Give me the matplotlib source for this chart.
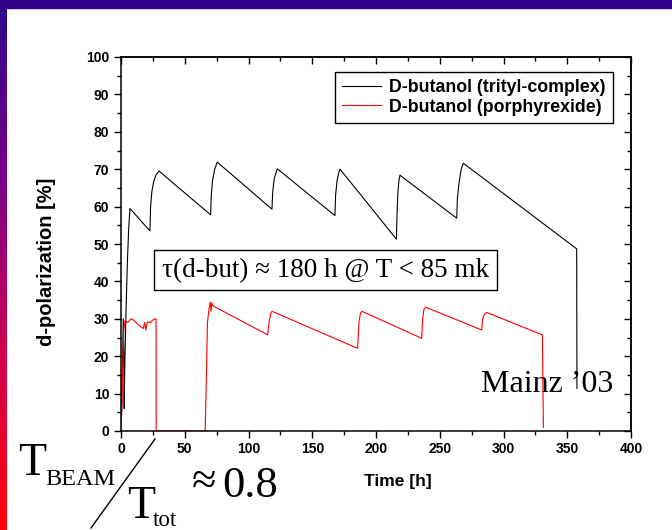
#!/usr/bin/env python3
# -*- coding: utf-8 -*-

import numpy as np
import matplotlib
matplotlib.use("Agg")
import matplotlib.pyplot as plt
from matplotlib.colors import LinearSegmentedColormap
from matplotlib.lines import Line2D
from matplotlib.patches import Rectangle
from matplotlib.ticker import MultipleLocator

# D-butanol (trityl-complex)
trityl_t = [0.4, 1.2, 1.8, 2.2, 2.5, 3.0, 4.0, 5.0, 6.0, 7.0,
            22.7, 23.2, 24.2, 25.5, 27.5, 29.8,
            70.3, 70.8, 71.8, 73.5, 75.5,
            118.4, 119.0, 120.2, 121.5, 122.6,
            167.8, 168.3, 169.5, 170.7, 171.8,
            216.0, 216.5, 217.2, 218.0, 218.8,
            263.3, 263.8, 265.0, 266.8, 268.5,
            357.4, 357.6]
trityl_pol = [4, 18, 30, 20, 6, 18, 33, 45, 54, 59.5,
              53.5, 60, 64, 66.5, 68.5, 69.5,
              57.8, 63, 67, 70, 71.9,
              59.3, 64, 67.5, 69, 70.1,
              57.6, 63, 67, 69, 70.0,
              51.3, 58, 64, 67, 68.4,
              56.9, 62, 66, 70, 71.6,
              48.7, 11.4]

# D-butanol (porphyrexide)
porph_t = [0, 0.8, 1.5, 2.2, 3.2, 5, 8, 10, 14, 17.5, 18.5, 19.5, 20.5,
           21.5, 23, 24.5, 27.5, 27.6,
           66.0, 67.0, 67.8, 69.0, 70.0, 70.6, 71.2, 72.0,
           115.0, 116.3, 117.5, 118.5,
           185.6, 186.6, 187.8, 189.0,
           235.8, 236.6, 237.6, 239.0,
           282.9, 283.6, 285.0, 286.8,
           330.5, 331.0, 331.3]
porph_pol = [0, 8, 20, 27, 29.5, 29, 30, 29.6, 28.3, 27.4, 29, 27, 29,
             29.2, 28.9, 29.6, 30, 0,
             0, 15, 29, 32.5, 34.5, 32, 34.3, 33.5,
             25.7, 29.5, 31.5, 32.0,
             22.1, 29, 31.5, 32.0,
             24.8, 30, 32.5, 33.1,
             27.0, 30, 31.2, 31.7,
             25.7, 10, 1.0]

series_names = ["D-butanol (trityl-complex)", "D-butanol (porphyrexide)"]

W, H = 672, 530
fig = plt.figure(figsize=(W / 100, H / 100), dpi=100)
fig.patch.set_facecolor("white")

# slide decoration: gradient strip on the left, dark band on top
cmap = LinearSegmentedColormap.from_list("slide", ["#2c0a8c", "#7a0088", "#d00050", "#ff0008"])
strip = fig.add_axes([0, 0, 7 / W, 1])
strip.imshow(np.linspace(0, 1, 256).reshape(-1, 1), aspect="auto", cmap=cmap)
strip.set_axis_off()
fig.add_artist(Rectangle((0, 1 - 8 / H), 1, 8 / H, transform=fig.transFigure,
                         color="#33008a", zorder=5))

ax = fig.add_axes([121 / W, 1 - 431 / H, 510 / W, 374 / H])
ax.plot(trityl_t, trityl_pol, color="black", lw=0.8, label=series_names[0])
ax.plot(porph_t, porph_pol, color="red", lw=0.8, label=series_names[1])

ax.set_xlim(0, 400)
ax.set_ylim(0, 100)
ax.xaxis.set_major_locator(MultipleLocator(50))
ax.xaxis.set_minor_locator(MultipleLocator(25))
ax.yaxis.set_major_locator(MultipleLocator(10))
ax.yaxis.set_minor_locator(MultipleLocator(5))

sans = ["Liberation Sans", "DejaVu Sans"]
serif = ["Liberation Serif", "DejaVu Serif"]

ax.tick_params(which="both", direction="out", width=1, top=False, right=False)
ax.tick_params(which="major", length=5)
ax.tick_params(which="minor", length=3)
for lab in ax.get_xticklabels() + ax.get_yticklabels():
    lab.set_fontfamily(sans)
    lab.set_fontweight("bold")
    lab.set_fontsize(10)
ax.tick_params(axis="x", pad=3)

# inward ticks on top and right
sec_x = ax.secondary_xaxis("top")
sec_x.xaxis.set_major_locator(MultipleLocator(50))
sec_x.xaxis.set_minor_locator(MultipleLocator(25))
sec_x.tick_params(which="both", direction="in", labeltop=False, width=1)
sec_x.tick_params(which="major", length=5)
sec_x.tick_params(which="minor", length=3)
sec_y = ax.secondary_yaxis("right")
sec_y.yaxis.set_major_locator(MultipleLocator(10))
sec_y.yaxis.set_minor_locator(MultipleLocator(5))
sec_y.tick_params(which="both", direction="in", labelright=False, width=1)
sec_y.tick_params(which="major", length=5)
sec_y.tick_params(which="minor", length=3)
for s in list(ax.spines.values()) + [sec_x.spines["top"], sec_y.spines["right"]]:
    s.set_linewidth(1.1)

ax.set_xlabel("Time [h]", family=sans, fontweight="bold", fontsize=12.5, labelpad=8)
ax.xaxis.set_label_coords(0.543, -0.115)
ax.set_ylabel("d-polarization [%]", family=sans, fontweight="bold", fontsize=14.5)
ax.yaxis.set_label_coords(-0.128, 0.452)

leg = ax.legend(loc="upper right", bbox_to_anchor=(0.965, 0.96),
                prop={"family": sans, "weight": "bold", "size": 12.8},
                fancybox=False, edgecolor="black", framealpha=1,
                handlelength=2.2, borderpad=0.42, labelspacing=0.12,
                handletextpad=0.45, borderaxespad=0)
leg.get_frame().set_linewidth(1.0)

ax.text(0.401, 0.430, "\u03c4(d-but) \u2248 180 h @ T < 85 mk", transform=ax.transAxes,
        ha="center", va="center", family=serif, fontsize=19.5,
        bbox=dict(boxstyle="square,pad=0.28", fc="white", ec="black", lw=1.0))
ax.text(0.965, 0.103, "Mainz \u201903", transform=ax.transAxes, ha="right",
        va="baseline", family=serif, fontsize=23, zorder=1)

# T_BEAM / T_tot ~ 0.8 in the lower left corner
fig.text(18 / W, 1 - 475 / H, "T", family=serif, fontsize=33, va="baseline")
fig.text(45 / W, 1 - 485 / H, "BEAM", family=serif, fontsize=17.5, va="baseline")
fig.text(127 / W, 1 - 518 / H, "T", family=serif, fontsize=33, va="baseline")
fig.text(153 / W, 1 - 526 / H, "tot", family=serif, fontsize=16.5, va="baseline")
fig.text(192 / W, 1 - 494 / H, "\u2248", family=serif, fontsize=32, va="baseline")
fig.text(222 / W, 1 - 497 / H, "0.8", family=serif, fontsize=32, va="baseline")
fig.add_artist(Line2D([155 / W, 91 / W], [1 - 439 / H, 1 - 528 / H],
                      transform=fig.transFigure, color="black", lw=1.0))

fig.savefig("out.png", dpi=100)
